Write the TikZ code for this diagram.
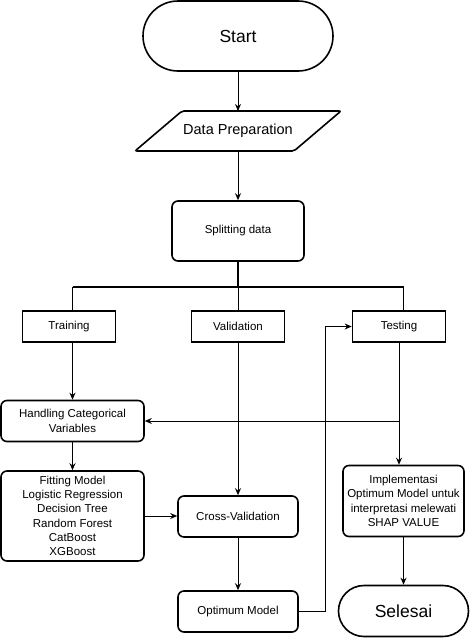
\documentclass[tikz,border=0pt]{standalone}
\usepackage{fontspec}
\setmainfont{Liberation Sans}
\usetikzlibrary{positioning,shapes.misc,arrows.meta}

\tikzset{
  term/.style={draw, line width=1.6pt, rounded rectangle, inner sep=0pt, font=\fontsize{17.5}{20}\selectfont},
  io/.style={inner sep=0pt, font=\fontsize{14.5}{17}\selectfont},
  box/.style={draw, line width=1.6pt, rounded corners=6pt, align=center, inner sep=0pt, font=\fontsize{11.5}{14.3}\selectfont},
  plain/.style={draw, line width=1.6pt, inner sep=0pt, minimum width=93pt, minimum height=31pt, font=\fontsize{11.5}{14.3}\selectfont},
  bus/.style={line width=1.6pt},
}

\begin{document}
\begin{tikzpicture}[x=1pt, y=-1pt, line width=1pt, >={Stealth[length=7pt,width=6pt]}]
\useasboundingbox (0,0) rectangle (470,638);
\node(start) [term, minimum width=190pt, minimum height=70pt] at (238,36) {Start};
\node(prep) [io, below of=start, node distance=95pt, minimum width=158pt, minimum height=39pt] {Data Preparation};
\node(split) [box, below of=prep, node distance=100pt, minimum width=132pt, minimum height=60pt] {Splitting data};
\path (split.center) ++(0,56) coordinate(bus);
\node(valid) [plain, below of=split, node distance=95.5pt] {Validation};
\node(train) [plain, left of=valid, node distance=169pt] {Training};
\node(test) [plain, right of=valid, node distance=161pt] {Testing};
\node(handle) [box, below of=train, node distance=94.5pt, xshift=3.5pt, minimum width=143pt, minimum height=41pt] {Handling Categorical\\Variables};
\node(fit) [box, below of=handle, node distance=95pt, minimum width=143pt, minimum height=90pt] {Fitting Model\\Logistic Regression\\Decision Tree\\Random Forest\\CatBoost\\XGBoost};
\node(cross) [box, below of=valid, node distance=190pt, minimum width=120pt, minimum height=41pt] {Cross-Validation};
\node(optim) [box, below of=cross, node distance=95pt, minimum width=120pt, minimum height=41pt] {Optimum Model};
\node(impl) [box, minimum width=121pt, minimum height=71pt] at (403.5,501) {Implementasi\\Optimum Model untuk\\interpretasi melewati\\SHAP VALUE};
\node(stop) [term, below of=impl, node distance=110pt, minimum width=130pt, minimum height=51pt] {Selesai};

% parallelogram round the data step
\draw[line width=1.6pt, rounded corners=2pt] ([xshift=23.5pt]prep.north west) -- ([xshift=23.5pt]prep.north east)
  -- ([xshift=-23.5pt]prep.south east) -- ([xshift=-23.5pt]prep.south west) -- cycle;

\draw[->] (start) to (prep);
\draw[->] (prep) to (split);
\draw[bus] (split) to (bus);
\draw[bus] (bus -| handle) to (bus -| stop);
\draw[bus] (bus -| handle) to (train.north -| handle);
\draw[bus] (bus -| stop) to (test.north -| stop);
\draw (bus) to (valid);
\draw[->] (train.south -| handle) to (handle);
\draw[->] (handle) to (fit);
\draw[->] (valid) to (cross);
\draw[->] (fit) to (fit -| cross.west);
\draw[->] (cross) to (optim);
\draw[->] (optim.east) -- ++(27,0) |- (test.west);
\draw[->] (test) to (test |- impl.north);
\draw[->] (test |- handle) to (handle);
\draw[->] (impl) to (stop);
\end{tikzpicture}
\end{document}
